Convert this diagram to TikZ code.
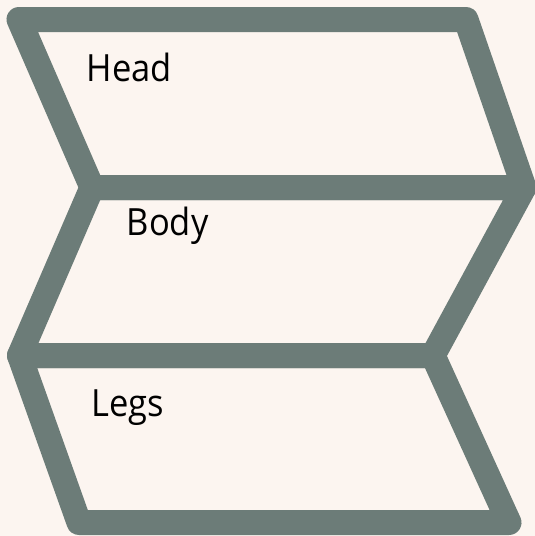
\documentclass[tikz,border=0pt]{standalone}
\usepackage{fontspec}
\setmainfont{Open Sans}
\definecolor{bandgray}{HTML}{6C7C78}
\definecolor{bgbeige}{HTML}{FCF5F0}
\tikzset{
  band/.style={draw=bandgray, line width=25pt, line join=round, line cap=round},
  lbl/.style={anchor=base west, inner sep=0pt, font=\fontsize{37.5}{42}\selectfont, text=black, xscale=0.92}
}
\begin{document}
\begin{tikzpicture}[x=1pt,y=-1pt]
\fill[bgbeige] (0,0) rectangle (535,536);
\useasboundingbox (0,0) rectangle (535,536);
\coordinate (A) at (19,19.5);
\coordinate (B) at (466,19.5);
\coordinate (C) at (524,187.5);
\coordinate (D) at (92,187.5);
\coordinate (E) at (19.5,355.5);
\coordinate (F) at (433,355.5);
\coordinate (G) at (509,522.5);
\coordinate (H) at (79,522.5);
\draw[band] (A) -- (B) -- (C) -- (D) -- cycle;
\draw[band] (D) -- (C) -- (F) -- (E) -- cycle;
\draw[band] (E) -- (F) -- (G) -- (H) -- cycle;
\node[lbl] (head) at (86.5,81.7) {Head};
\node[lbl] (body) at (126.5,235) {Body};
\node[lbl] (legs) at (91.5,416.7) {Legs};
\end{tikzpicture}
\end{document}
